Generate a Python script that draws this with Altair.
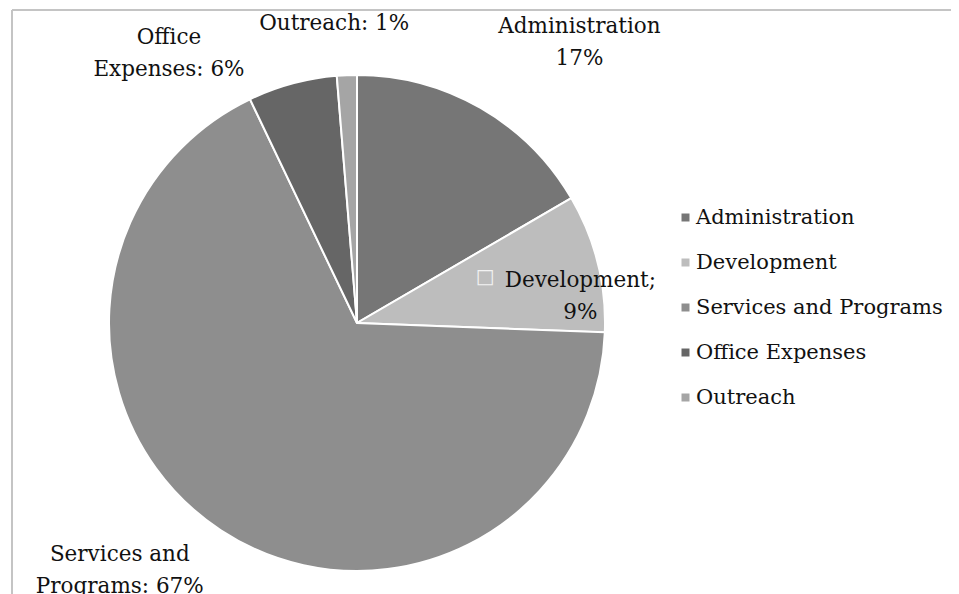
import altair as alt
import pandas as pd

categories = ["Administration", "Development", "Services and Programs", "Office Expenses", "Outreach"]
values = [16.6, 9.0, 67.3, 5.8, 1.3]
labels = ["Administration\n17%", "Development;\n9%", "Services and\nPrograms: 67%", "Office\nExpenses: 6%", "Outreach: 1%"]
colors = ["#767676", "#bdbdbd", "#8e8e8e", "#666666", "#a5a5a5"]

FONT = "DejaVu Serif"
FS = 21.5
CX, CY, R = 349, 315, 248
W, H = 943, 586
total = sum(values)

df = pd.DataFrame({"category": categories, "value": values, "label": labels,
                   "order": list(range(len(categories)))})

theta_scale = alt.Scale(domain=[0, total])
base = alt.Chart(df)

one = alt.Chart(pd.DataFrame({"a": [0]}))
frame_top = one.mark_rule(stroke="#c4c4c4", strokeWidth=2).encode(
    x=alt.value(4), x2=alt.value(W + 20), y=alt.value(2))
frame_left = one.mark_rule(stroke="#c4c4c4", strokeWidth=2).encode(
    x=alt.value(4), y=alt.value(2), y2=alt.value(H + 20))

pie = base.mark_arc(radius=R, stroke="white", strokeWidth=2).encode(
    theta=alt.Theta("value:Q", stack=True, scale=theta_scale),
    color=alt.Color(
        "category:N",
        scale=alt.Scale(domain=categories, range=colors),
        sort=categories,
        legend=alt.Legend(
            title=None, orient="none", legendX=667, legendY=199,
            symbolType="square", symbolSize=64, symbolStrokeWidth=0,
            labelFont=FONT, labelFontSize=21, labelColor="#111111",
            rowPadding=23, padding=0, labelOffset=0, labelLimit=400,
        ),
    ),
    order=alt.Order("order:Q"),
    x=alt.value(CX), y=alt.value(CY),
)

mid = base.transform_window(
    cum="sum(value)", sort=[alt.SortField("order")], frame=[None, 0]
).transform_calculate(mid="datum.cum - datum.value / 2")

# label layout: radius, dx, dy per category
label_layout = {
    "Administration": (290, 78, -45),
    "Development": (190, 39, 4),
    "Services and Programs": (290, -78, -10),
    "Office Expenses": (280, -115, -15),
    "Outreach": (290, -11, -9),
}

text_layers = []
for cat in categories:
    r, dx, dy = label_layout[cat]
    text_layers.append(
        mid.transform_filter(alt.datum.category == cat).mark_text(
            radius=r, dx=dx, dy=dy, lineBreak="\n", lineHeight=32,
            font=FONT, fontSize=FS, color="#111111", align="center", baseline="middle",
        ).encode(
            theta=alt.Theta("mid:Q", scale=theta_scale),
            text="label:N",
            x=alt.value(CX), y=alt.value(CY),
        )
    )

# small key square inside the Development label
key = mid.transform_filter(alt.datum.category == "Development").mark_text(
    radius=190, dx=-56, dy=0, font="DejaVu Sans", fontSize=20, color="#f2f2f2",
    align="center", baseline="middle", text="\u25a1",
).encode(theta=alt.Theta("mid:Q", scale=theta_scale), x=alt.value(CX), y=alt.value(CY))

chart = alt.layer(frame_top, frame_left, pie, *text_layers, key).properties(
    width=W, height=H, padding=0, autosize=alt.AutoSizeParams(type="none")
).configure_view(stroke=None)

chart.save("out.html", embed_options={"renderer": "svg", "actions": False})
